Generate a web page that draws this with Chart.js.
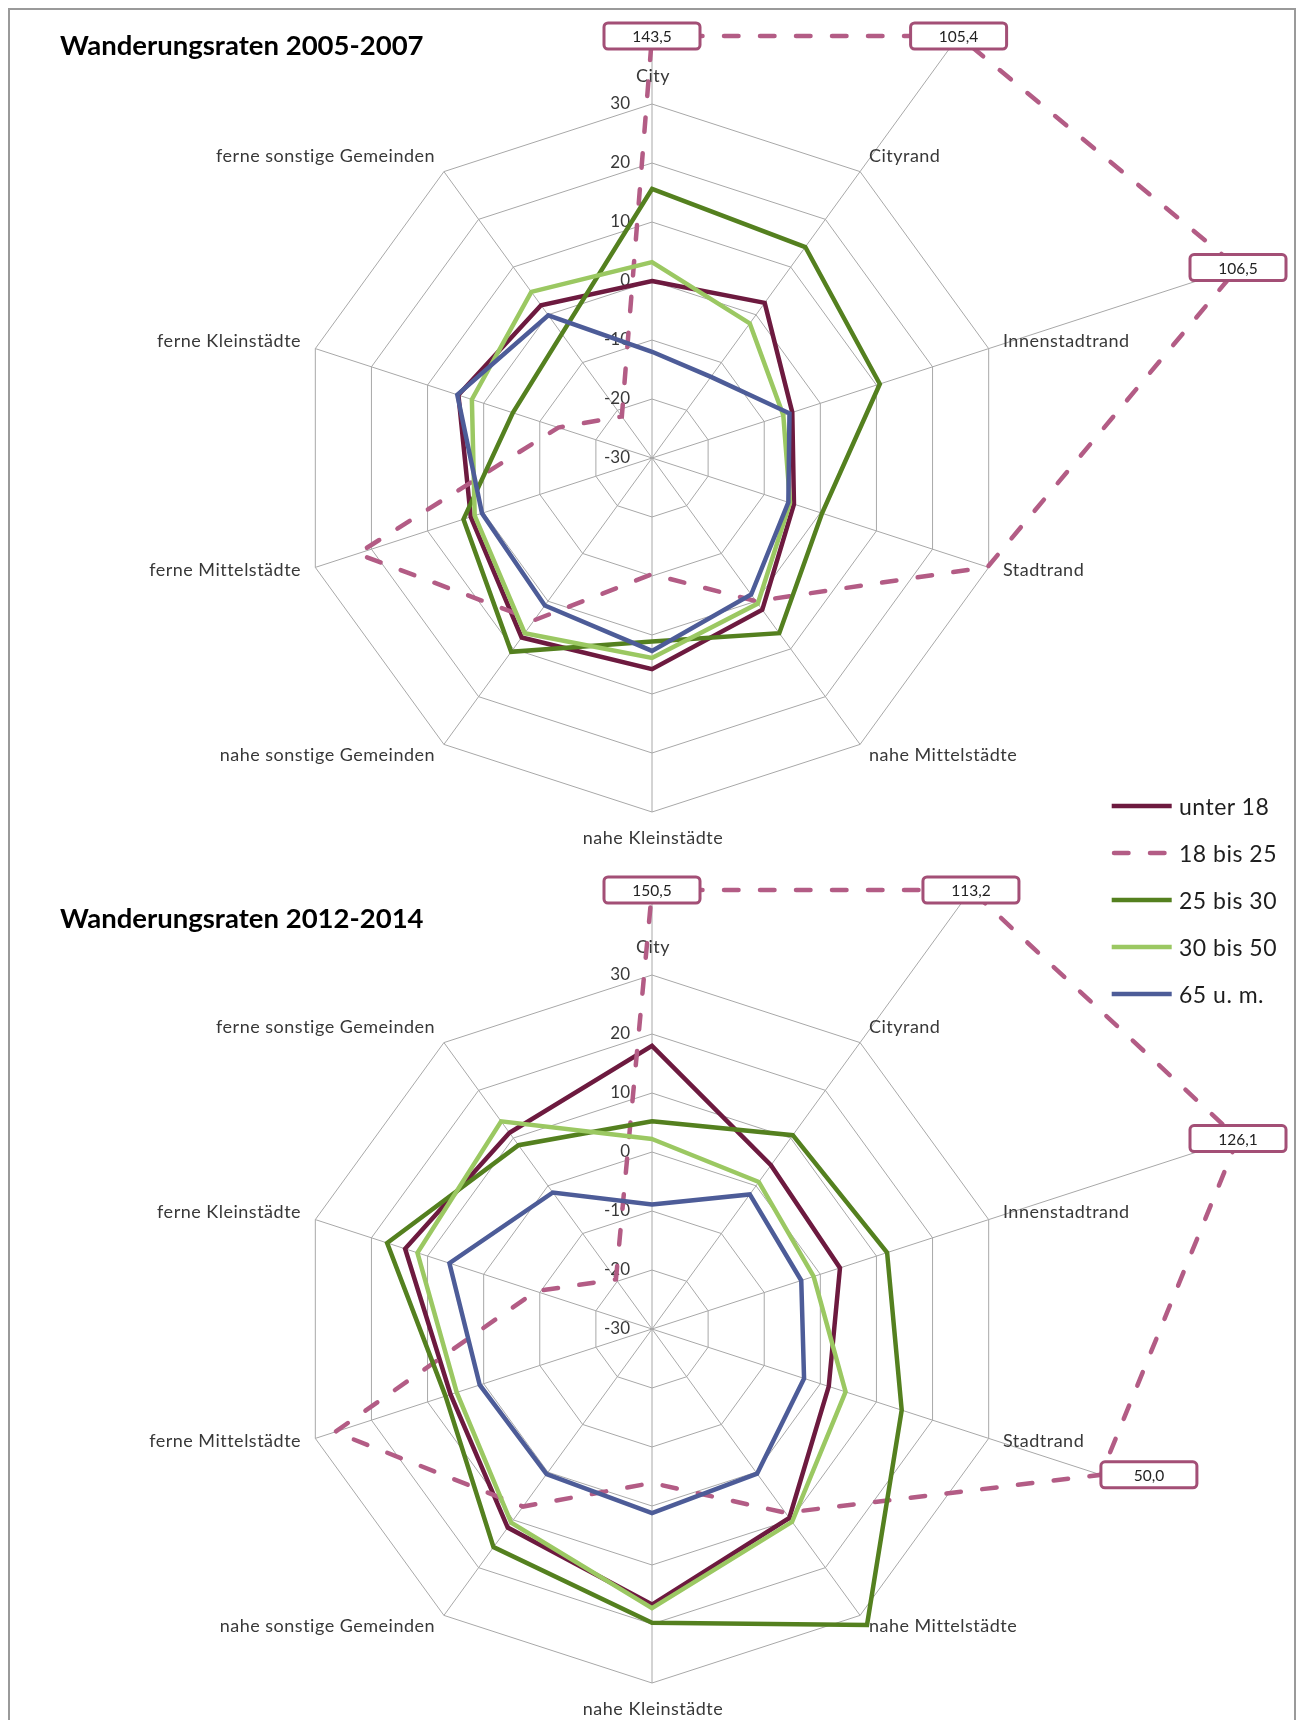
<!DOCTYPE html>
<html>
<head>
<meta charset="utf-8">
<script src="https://cdn.jsdelivr.net/npm/chart.js@4/dist/chart.umd.min.js"></script>
<style>
  html, body { margin: 0; padding: 0; background: #fff; width: 1304px; height: 1720px; overflow: hidden; font-family: Lato, "Open Sans", sans-serif; }
  #frame { position: absolute; left: 8px; top: 8px; width: 1284px; height: 1740px; border: 2px solid #9a9a9a; }
  canvas { position: absolute; left: 0; }
  #c1 { top: 0; }
  #c2 { top: 871px; }
  .title { position: absolute; left: 60px; font: bold 27.5px Lato, sans-serif; line-height: 30px; color: #000; white-space: nowrap; }
  #legend { position: absolute; left: 1111px; top: 783px; }
  .item { display: flex; align-items: center; height: 46.8px; font-size: 23px; letter-spacing: 0.5px; color: #1e1e1e; white-space: nowrap; }
  .item svg { margin-right: 6px; flex: none; }
</style>
</head>
<body>
<div id="frame"></div>
<canvas id="c1" width="1304" height="850"></canvas>
<canvas id="c2" width="1304" height="850"></canvas>
<div class="title" id="t1" style="top:30px"></div>
<div class="title" id="t2" style="top:903px"></div>
<div id="legend"></div>

<script>
// Raumkategorien (Achsen des Netzdiagramms, im Uhrzeigersinn ab oben)
const categories = ['City', 'Cityrand', 'Innenstadtrand', 'Stadtrand', 'nahe Mittelstädte',
  'nahe Kleinstädte', 'nahe sonstige Gemeinden', 'ferne Mittelstädte', 'ferne Kleinstädte',
  'ferne sonstige Gemeinden'];
const seriesNames = ['unter 18', '18 bis 25', '25 bis 30', '30 bis 50', '65 u. m.'];
const tickValues = [-30, -20, -10, 0, 10, 20, 30];
const periodTitles = ['Wanderungsraten 2005-2007', 'Wanderungsraten 2012-2014'];

// Wanderungsraten 2005-2007
const unter18_0507 = [0, 2.5, -5, -4.7, 1.8, 5.8, 7.6, 2.3, 4.5, 2.0];
const bis25_0507   = [143.5, 105.4, 106.5, 29.8, 0, -10.3, 4.0, 22.5, -13.3, -21.3];
const bis30_0507   = [15.6, 14.2, 10.6, 0.3, 6.7, 1.1, 10.6, 3.6, -5.2, -4.0];
const bis50_0507   = [3.2, -1.8, -6.6, -5.4, 0.5, 3.9, 6.7, 1.6, 2.1, 4.8];
const ab65_0507    = [-12, -13, -5.5, -5.7, -1.4, 2.7, 0.9, 0.3, 4.7, -0.1];

// Wanderungsraten 2012-2014
const unter18_1214 = [18.0, 4.3, 3.5, 1.5, 9.6, 16.7, 11.6, 5.9, 14.0, 11.1];
const bis25_1214   = [150.5, 113.2, 126.1, 50.0, 8.5, -3.9, 7.2, 26.5, -9.3, -19.6];
const bis30_1214   = [5.2, 10.6, 11.9, 14.5, 32, 19.8, 15.7, 6.8, 17.2, 8.5];
const bis50_1214   = [2.2, 0.8, -1.2, 4.5, 10.4, 17.3, 10.6, 4.8, 11.8, 13.5];
const ab65_1214    = [-8.9, -1.8, -3.4, -2.9, 0.3, 1.2, 0.4, 0.7, 6.1, -1.4];

// Linienstile je Altersgruppe
const seriesStyle = [
  { color: '#6d1a3f', dash: [] },
  { color: '#b35c85', dash: [14.5, 21.5] },
  { color: '#54801f', dash: [] },
  { color: '#9bc862', dash: [] },
  { color: '#4d5c98', dash: [] }
];
const gridColor = '#a8a8a8';
const textColor = '#383838';
const boxColor = '#a34f76';

// Legende
const legend = document.getElementById('legend');
seriesNames.forEach((name, i) => {
  const st = seriesStyle[i];
  const item = document.createElement('div');
  item.className = 'item';
  const dashed = st.dash.length > 0;
  item.innerHTML =
    '<svg width="62" height="10"><line x1="' + (dashed ? 3 : 0.7) + '" y1="5" x2="' + (dashed ? 58 : 60.7) +
    '" y2="5" stroke="' + st.color + '" stroke-width="4.5"' +
    (dashed ? ' stroke-dasharray="' + st.dash.join(' ') + '" stroke-linecap="round"' : '') +
    '/></svg><span>' + name + '</span>';
  legend.appendChild(item);
});
document.getElementById('t1').textContent = periodTitles[0];
document.getElementById('t2').textContent = periodTitles[1];

const fmt = v => v.toLocaleString('de-DE', { minimumFractionDigits: 1, maximumFractionDigits: 1 });

// Werte oberhalb des Achsenmaximums: Punkt entlang der Achse bis zum Rand der Zeichenfläche
// zurückholen, Achse verlängern und den Wert in einem Kästchen anzeigen.
const outOfRange = {
  id: 'outOfRange',
  afterDatasetsUpdate(chart, args, opts) {
    const r = chart.scales.r;
    const cx = r.xCenter, cy = r.yCenter;
    chart.data.datasets.forEach((ds, di) => {
      if (!ds.valueBoxes) return;
      const meta = chart.getDatasetMeta(di);
      meta.data.forEach(pt => {
        const dx = pt.x - cx, dy = pt.y - cy;
        let t = 1;
        if (pt.y < opts.top) t = Math.min(t, (cy - opts.top) / (cy - pt.y));
        if (pt.x > opts.right) t = Math.min(t, (opts.right - cx) / (pt.x - cx));
        if (pt.x < opts.left) t = Math.min(t, (cx - opts.left) / (cx - pt.x));
        if (pt.y > opts.bottom) t = Math.min(t, (opts.bottom - cy) / (pt.y - cy));
        pt.clamped = t < 1;
        pt.x = cx + dx * t;
        pt.y = cy + dy * t;
      });
      if (meta.dataset) meta.dataset._path = undefined;
    });
  },
  beforeDatasetsDraw(chart) {
    const r = chart.scales.r;
    const ctx = chart.ctx;
    ctx.save();
    // Achsenverlängerungen
    chart.data.datasets.forEach((ds, di) => {
      if (!ds.valueBoxes) return;
      const meta = chart.getDatasetMeta(di);
      ds.data.forEach((v, i) => {
        if (v <= r.max) return;
        const o = r.getPointPosition(i, r.drawingArea);
        const pt = meta.data[i];
        ctx.strokeStyle = gridColor;
        ctx.lineWidth = 1;
        ctx.beginPath();
        ctx.moveTo(o.x, o.y);
        ctx.lineTo(pt.x, pt.y);
        ctx.stroke();
      });
    });
    // Skalenbeschriftung
    ctx.fillStyle = textColor;
    ctx.font = '17px Lato, sans-serif';
    ctx.textAlign = 'right';
    ctx.textBaseline = 'middle';
    r.ticks.forEach(t => {
      ctx.fillText(String(t.value), r.xCenter - 22, r.yCenter - r.getDistanceFromCenterForValue(t.value));
    });
    // Kategorienbeschriftung
    ctx.font = '18px Lato, sans-serif';
    if ('letterSpacing' in ctx) ctx.letterSpacing = '0.5px';
    chart.data.labels.forEach((lab, i) => {
      const a = r.getIndexAngle(i);
      const s = Math.sin(a), c = Math.cos(a);
      const v = r.getPointPosition(i, r.drawingArea);
      if (Math.abs(s) < 0.01) {
        ctx.textAlign = 'center';
        ctx.fillText(lab, v.x + 1, v.y - c * 27 - 1);
      } else {
        ctx.textAlign = s > 0 ? 'left' : 'right';
        ctx.fillText(lab, v.x + s * 15, v.y - c * 16 - 2);
      }
    });
    ctx.restore();
  },
  afterDatasetsDraw(chart) {
    const r = chart.scales.r;
    const ctx = chart.ctx;
    ctx.save();
    chart.data.datasets.forEach((ds, di) => {
      if (!ds.valueBoxes) return;
      const meta = chart.getDatasetMeta(di);
      ds.data.forEach((v, i) => {
        if (v <= r.max) return;
        const pt = meta.data[i];
        const w = 96, h = 26;
        const bx = pt.clamped ? pt.x - w / 2 : pt.x;
        const by = pt.y - h / 2;
        ctx.beginPath();
        if (ctx.roundRect) ctx.roundRect(bx, by, w, h, 4); else ctx.rect(bx, by, w, h);
        ctx.fillStyle = '#fff';
        ctx.fill();
        ctx.lineWidth = 3;
        ctx.strokeStyle = boxColor;
        ctx.stroke();
        ctx.fillStyle = '#222';
        ctx.font = '15.5px Lato, sans-serif';
        ctx.textAlign = 'center';
        ctx.textBaseline = 'middle';
        ctx.fillText(fmt(v), bx + w / 2, by + h / 2 + 1);
      });
    });
    ctx.restore();
  }
};

function makeRadar(canvasId, series, area) {
  const datasets = series.map((vals, i) => ({
    label: seriesNames[i],
    data: vals,
    borderColor: seriesStyle[i].color,
    backgroundColor: 'transparent',
    borderWidth: 4.5,
    borderDash: seriesStyle[i].dash,
    borderCapStyle: seriesStyle[i].dash.length ? 'round' : 'butt',
    borderJoinStyle: 'miter',
    fill: false,
    pointRadius: 0,
    clip: false,
    order: series.length - i,
    valueBoxes: i === 1
  }));
  return new Chart(document.getElementById(canvasId), {
    type: 'radar',
    data: { labels: categories, datasets },
    plugins: [outOfRange],
    options: {
      responsive: false,
      animation: false,
      devicePixelRatio: 1,
      layout: { padding: { left: 298, right: 298, top: 104, bottom: 38 } },
      plugins: {
        legend: { display: false },
        tooltip: { enabled: false },
        title: { display: false },
        outOfRange: area
      },
      elements: { line: { tension: 0 } },
      scales: {
        r: {
          min: -30,
          max: 30,
          startAngle: 0,
          afterBuildTicks(s) { s.ticks = tickValues.map(v => ({ value: v })); },
          afterFit(s) {
            if (typeof s.left === 'number' && typeof s.top === 'number') {
              s.xCenter = Math.round(s.left + s.width / 2);
              s.yCenter = Math.round(s.top + s.height / 2);
              s.drawingArea = Math.min(s.width, s.height) / 2;
            }
          },
          ticks: { display: false, stepSize: 10 },
          grid: { color: gridColor, lineWidth: 1, circular: false },
          angleLines: { color: gridColor, lineWidth: 1 },
          pointLabels: { display: false }
        }
      }
    }
  });
}

makeRadar('c1', [unter18_0507, bis25_0507, bis30_0507, bis50_0507, ab65_0507],
  { top: 36, right: 1238, left: 20, bottom: 845 });
makeRadar('c2', [unter18_1214, bis25_1214, bis30_1214, bis50_1214, ab65_1214],
  { top: 19, right: 1238, left: 20, bottom: 845 });
</script>
</body>
</html>
